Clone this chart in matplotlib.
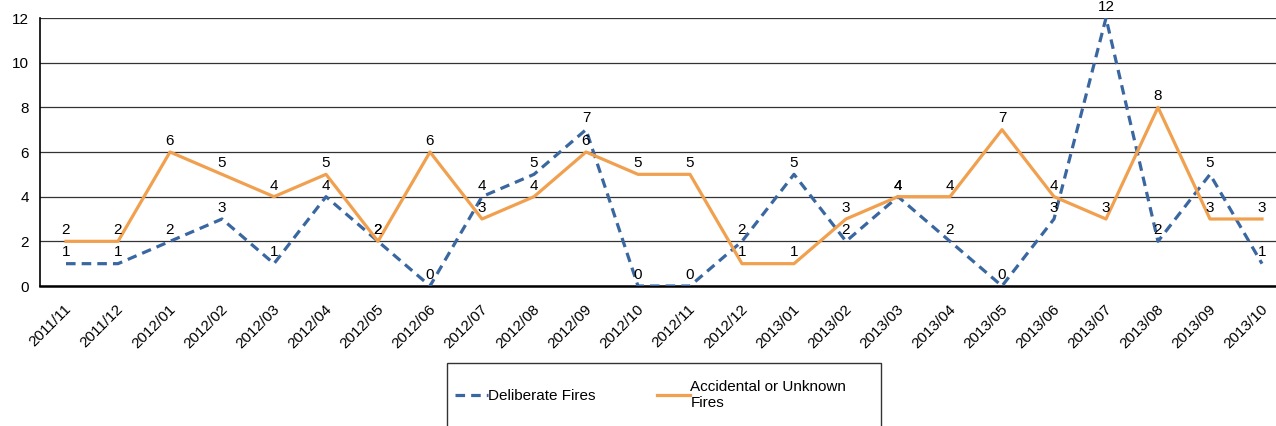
import numpy as np
import matplotlib.pyplot as plt
import matplotlib.transforms as mtransforms
from matplotlib.patches import Rectangle

plt.rcParams['font.family'] = ['Liberation Sans', 'DejaVu Sans']

months = ['2011/11', '2011/12', '2012/01', '2012/02', '2012/03', '2012/04',
          '2012/05', '2012/06', '2012/07', '2012/08', '2012/09', '2012/10',
          '2012/11', '2012/12', '2013/01', '2013/02', '2013/03', '2013/04',
          '2013/05', '2013/06', '2013/07', '2013/08', '2013/09', '2013/10']
deliberate = [1, 1, 2, 3, 1, 4, 2, 0, 4, 5, 7, 0, 0, 2, 5, 2, 4, 2, 0, 3, 12, 2, 5, 1]
accidental = [2, 2, 6, 5, 4, 5, 2, 6, 3, 4, 6, 5, 5, 1, 1, 3, 4, 4, 7, 4, 3, 8, 3, 3]

blue = '#3A67A0'
orange = '#F0A04E'

fig = plt.figure(figsize=(12.76, 4.26), dpi=100)
ax = fig.add_axes([40 / 1276, 140 / 426, 1248 / 1276, 268 / 426])

x = np.arange(len(months))
ax.plot(x, deliberate, color=blue, lw=2.3, linestyle=(0, (3, 1.9)),
        label='Deliberate Fires', zorder=3)
ax.plot(x, accidental, color=orange, lw=2.3, label='Accidental or Unknown\nFires',
        zorder=3)

# data labels above each point
for xi, v in zip(x, deliberate):
    ax.annotate(str(v), (xi, v), xytext=(0, 3), textcoords='offset points',
                ha='center', va='bottom', fontsize=11, zorder=4)
for xi, v in zip(x, accidental):
    ax.annotate(str(v), (xi, v), xytext=(0, 3), textcoords='offset points',
                ha='center', va='bottom', fontsize=11, zorder=4)

ax.set_xlim(-0.5, len(months) - 0.5)
ax.set_ylim(0, 12)
ax.set_yticks(range(0, 13, 2))
ax.set_xticks(x)
ax.set_xticklabels([])

# rotated month labels, drawn by hand
trans = (mtransforms.blended_transform_factory(ax.transData, ax.transAxes)
         + mtransforms.ScaledTranslation(3 / 100, -21 / 100, fig.dpi_scale_trans))
for xi, m in zip(x, months):
    ax.text(xi, 0, m, transform=trans, rotation=45, ha='right', va='center',
            rotation_mode='anchor', fontsize=11, clip_on=False)

ax.tick_params(axis='y', labelsize=11, length=0, pad=8)
ax.tick_params(axis='x', length=0)
ax.grid(axis='y', color='#333333', lw=0.9)
ax.set_axisbelow(True)
for s in ['top', 'right']:
    ax.spines[s].set_visible(False)
ax.spines['left'].set_linewidth(1.2)
ax.spines['bottom'].set_linewidth(1.8)

# legend box (runs off the bottom edge)
fig.patches.append(Rectangle((447 / 1276, -0.05), 434 / 1276, 63 / 426 + 0.05,
                             transform=fig.transFigure, fill=False,
                             edgecolor='#333333', lw=1.0))
leg = fig.legend(loc='center left', bbox_to_anchor=(450 / 1276, 1 - 395 / 426),
                 ncol=2, frameon=False, fontsize=11,
                 handlelength=2.2, handletextpad=0.0, columnspacing=4.0,
                 borderaxespad=0, borderpad=0.3)

fig.savefig('out.png', dpi=100)
